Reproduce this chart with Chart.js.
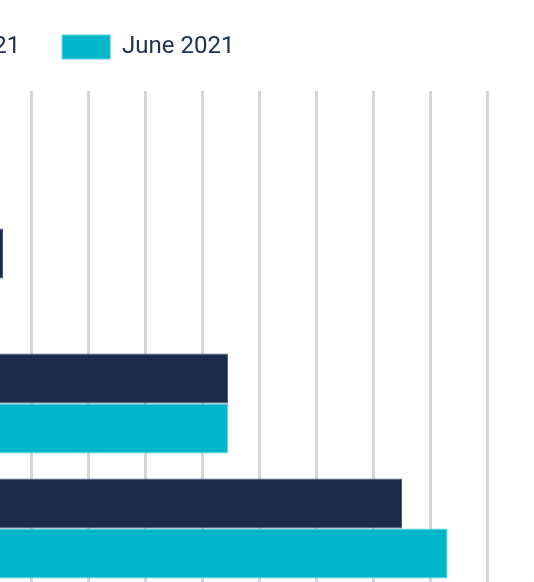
<!DOCTYPE html>
<html>
<head>
<meta charset="utf-8">
<script src="https://cdn.jsdelivr.net/npm/chart.js@4.4.1/dist/chart.umd.min.js"></script>
<style>
    html, body {
        margin: 0;
        padding: 0;
        background: #ffffff;
    }
    body {
        position: relative;
        width: 534px;
        height: 582px;
        overflow: hidden;
    }
    #wrap {
        position: absolute;
        left: -473px;
        top: 0;
        width: 1013px;
        height: 631px;
    }
</style>
</head>
<body>
<div id="wrap"><canvas id="bars" width="1013" height="631"></canvas></div>
<script>
// data
var categories = ["Category A", "Category B", "Category C", "Category D"];
var seriesNames = ["March 2021", "June 2021"];
var march2021 = [38, 55, 94.5, 125];
var june2021 = [42, 47, 94.5, 133];
var tickMax = 140;
var tickStep = 10;

var navy = "#1b2b4c";
var cyan = "#00b6cb";

// pushes the plot down below the legend
var legendSpacer = {
    id: "legendSpacer",
    beforeInit: function (chart) {
        var fit = chart.legend.fit;
        chart.legend.fit = function () {
            fit.call(this);
            this.height += 22;
        };
    }
};

var ctx = document.getElementById("bars").getContext("2d");
new Chart(ctx, {
    type: "bar",
    data: {
        labels: categories,
        datasets: [{
            label: seriesNames[0],
            data: march2021,
            backgroundColor: navy,
            borderColor: "#47536d",
            borderWidth: 1
        }, {
            label: seriesNames[1],
            data: june2021,
            backgroundColor: cyan,
            borderColor: "#5ccfdc",
            borderWidth: 1
        }]
    },
    plugins: [legendSpacer],
    options: {
        indexAxis: "y",
        responsive: false,
        animation: false,
        devicePixelRatio: 1,
        layout: {
            padding: { top: -7 }
        },
        datasets: {
            bar: {
                categoryPercentage: 0.8,
                barPercentage: 1
            }
        },
        scales: {
            x: {
                min: 0,
                max: tickMax,
                position: "bottom",
                ticks: {
                    stepSize: tickStep,
                    color: "#22314f",
                    font: { family: "Roboto", size: 16 }
                },
                grid: {
                    color: "#d6d6d6",
                    lineWidth: 3
                },
                border: { display: false },
                afterFit: function (scale) {
                    scale.height = 40;
                }
            },
            y: {
                position: "left",
                ticks: {
                    color: "#22314f",
                    font: { family: "Roboto", size: 18 }
                },
                grid: { display: false },
                border: { display: false },
                afterFit: function (scale) {
                    scale.width = 162.5;
                }
            },
            // empty strip on the right
            y2: {
                type: "linear",
                position: "right",
                ticks: { display: false },
                grid: { display: false },
                border: { display: false },
                afterFit: function (scale) {
                    scale.width = 52.5;
                }
            }
        },
        plugins: {
            legend: {
                display: true,
                position: "top",
                labels: {
                    boxWidth: 48,
                    boxHeight: 24,
                    padding: 42,
                    color: "#22314f",
                    font: { family: "Roboto", size: 24 }
                }
            },
            tooltip: { enabled: false }
        }
    }
});
</script>
</body>
</html>
